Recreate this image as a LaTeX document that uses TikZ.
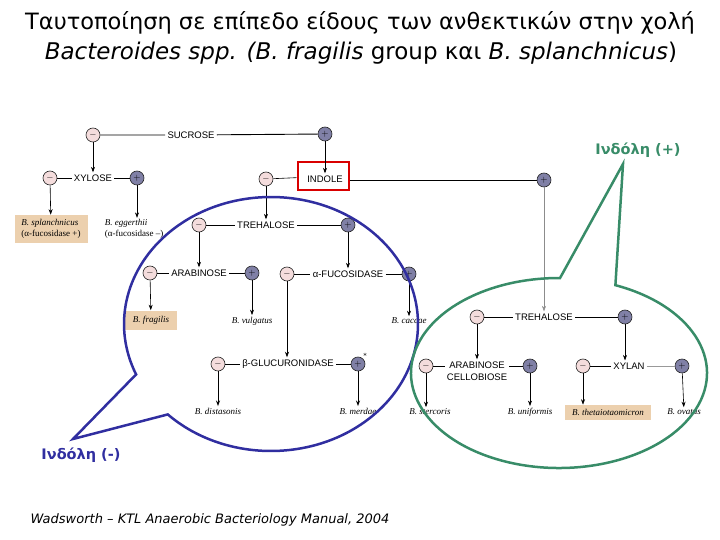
\documentclass[tikz,border=0pt]{standalone}
\usepackage{fontspec}
\setmainfont{DejaVu Sans}
\newfontfamily\chartfont{Liberation Sans}
\newfontfamily\specfont{Liberation Serif}
\usetikzlibrary{arrows.meta}
\definecolor{negfill}{RGB}{244,220,220}
\definecolor{posfill}{RGB}{128,128,166}
\definecolor{tanbox}{RGB}{236,208,174}
\definecolor{calloutblue}{RGB}{48,46,160}
\definecolor{calloutgreen}{RGB}{56,140,104}

\begin{document}
\begin{tikzpicture}[x=1pt, y=-1pt, >={Stealth[length=5.5pt,width=4pt]}, line width=0.6pt,
  minusdot/.style={circle, draw=black!85, fill=negfill, minimum size=14pt, inner sep=0pt, font=\small},
  plusdot/.style={circle, draw=black!85, fill=posfill, minimum size=14pt, inner sep=0pt, font=\small},
  testlbl/.style={font=\chartfont\fontsize{9.5}{11}\selectfont, inner sep=2pt},
  species/.style={font=\specfont\itshape\fontsize{9}{10.5}\selectfont, inner sep=1.5pt},
  tanbg/.style={fill=tanbox},
  callout/.style={line width=2.5pt, line join=miter}]
  \useasboundingbox (0,0) rectangle (720,540);

  % Title
  \node[font=\fontsize{22.5}{26}\selectfont] (title1) at (360,23) {Ταυτοποίηση σε επίπεδο είδους των ανθεκτικών στην χολή};
  \node[font=\fontsize{23}{26}\selectfont] (title2) at (361,53) {\textit{Bacteroides spp. (B. fragilis} group και \textit{B. splanchnicus})};

  % Sucrose
  \node[minusdot] (sucM) at (93,135) {$-$};
  \node[testlbl] (suc) at (191,135) {SUCROSE};
  \node[plusdot] (sucP) at (325,134) {$+$};
  \draw[line width=0.9pt] (sucM) -- (suc) -- (sucP);

  % Xylose
  \node[minusdot] (xylM) at (50,178) {$-$};
  \node[testlbl] (xyl) at (93,178) {XYLOSE};
  \node[plusdot] (xylP) at (137,178) {$+$};
  \draw (xylM) -- (xyl) -- (xylP);
  \draw[->] (sucM) -- (sucM |- xyl.north);
  \node[species, tanbg, align=left, minimum width=73pt, minimum height=28pt] (bspl) at (51,229) {B. splanchnicus\\{\upshape(α-fucosidase +)}};
  \node[species, align=left, anchor=west] (begg) at (103,229) {B. eggerthii\\{\upshape(α-fucosidase –)}};
  \draw[->] (xylM) -- (bspl);
  \draw[->] (xylP) -- (xylP |- begg.north);

  % Indole
  \node[draw=red!85!black, line width=2pt, minimum width=51pt, minimum height=28pt] (indBox) at (323,176.5) {};
  \node[testlbl] (ind) at (325,179) {INDOLE};
  \node[minusdot] (indM) at (266,179) {$-$};
  \node[plusdot] (indP) at (544,180) {$+$};
  \draw (indM) -- (indBox);
  \draw[line width=0.9pt] (indBox.east |- indP) -- (indP);
  \draw[->] (sucP) -- (ind.north);

  % Indole (-)
  \node[minusdot] (treM) at (199,225) {$-$};
  \node[testlbl] (tre) at (266,225) {TREHALOSE};
  \node[plusdot] (treP) at (348,225) {$+$};
  \draw (treM) -- (tre) -- (treP);
  \draw[->] (indM) -- (tre.north);

  \node[minusdot] (araM) at (150,273) {$-$};
  \node[testlbl] (ara) at (199,273) {ARABINOSE};
  \node[plusdot] (araP) at (252,273) {$+$};
  \draw (araM) -- (ara) -- (araP);
  \draw[->] (treM) -- (ara.north);

  \node[minusdot] (fucM) at (287,274) {$-$};
  \node[testlbl] (fuc) at (348,274) {α-FUCOSIDASE};
  \node[plusdot] (fucP) at (409,274) {$+$};
  \draw (fucM) -- (fuc) -- (fucP);
  \draw[->] (treP) -- (fuc.north);

  \node[species, tanbg, minimum width=52pt, minimum height=19pt] (bfra) at (151,320) {B. fragilis};
  \node[species] (bvul) at (252,321) {B. vulgatus};
  \node[species] (bcac) at (409,321) {B. caccae};
  \draw[->] (araM) -- (bfra);
  \draw[->] (araP) -- (bvul);
  \draw[->] (fucP) -- (bcac);

  \node[minusdot] (gluM) at (218,364) {$-$};
  \node[testlbl] (glu) at (288,364) {β-GLUCURONIDASE};
  \node[plusdot, label={[font=\scriptsize, inner sep=0pt]45:*}] (gluP) at (358,364) {$+$};
  \draw (gluM) -- (glu) -- (gluP);
  \draw[->] (fucM) -- (fucM |- glu.north);

  \node[species] (bdis) at (218,411) {B. distasonis};
  \node[species] (bmer) at (358,411) {B. merdae};
  \draw[->] (gluM) -- (bdis);
  \draw[->] (gluP) -- (bmer);

  % Indole (+)
  \node[minusdot] (tr2M) at (477,317) {$-$};
  \node[testlbl] (tr2) at (544,317) {TREHALOSE};
  \node[plusdot] (tr2P) at (625,317) {$+$};
  \draw (tr2M) -- (tr2) -- (tr2P);
  \draw[->, black!45, line width=0.4pt] (indP) -- (tr2.north);

  \node[minusdot] (acM) at (426,366) {$-$};
  \node[testlbl, align=center, font=\chartfont\fontsize{9.5}{12}\selectfont] (ac) at (477,371) {ARABINOSE\\CELLOBIOSE};
  \node[plusdot] (acP) at (530,366) {$+$};
  \draw (acM) -- (ac.west |- acM);
  \draw (ac.east |- acP) -- (acP);
  \draw[->] (tr2M) -- (tr2M |- ac.north);

  \node[minusdot] (xlM) at (583,366) {$-$};
  \node[testlbl] (xl) at (629,366) {XYLAN};
  \node[plusdot] (xlP) at (682,366) {$+$};
  \draw (xlM) -- (xl);
  \draw[black!40] (xl) -- (xlP);
  \draw[->] (tr2P) -- (tr2P |- xl.north);

  \node[species] (bste) at (430,412) {B. stercoris};
  \node[species] (buni) at (530,412) {B. uniformis};
  \node[species, tanbg, minimum width=86pt, minimum height=15pt] (bthe) at (608,412.5) {B. thetaiotaomicron};
  \node[species] (bova) at (684,412) {B. ovatus};
  \draw[->] (acM) -- (acM |- bste.north);
  \draw[->] (acP) -- (buni);
  \draw[->] (xlM) -- (xlM |- bthe.north);
  \draw[->] (xlP) -- (bova);

  % Callouts
  \draw[callout, calloutblue] ([shift={(271,324)}]156.6:147 and 127) -- (73,439)
    -- ([shift={(271,324)}]134.6:147 and 127)
    arc[start angle=134.6, end angle=-203.4, x radius=147, y radius=127] -- cycle;
  \node[calloutblue, font=\bfseries\fontsize{14.5}{16}\selectfont] (negLbl) at (81,455) {Ινδόλη (-)};

  \draw[callout, calloutgreen] ([shift={(559,373)}]-89.6:148 and 95) -- (623,164)
    -- ([shift={(559,373)}]-67.6:148 and 95)
    arc[start angle=-67.6, end angle=270.4, x radius=148, y radius=95] -- cycle;
  \node[calloutgreen, font=\bfseries\fontsize{14.5}{16}\selectfont] (posLbl) at (638,150) {Ινδόλη (+)};

  % Source
  \node[font=\itshape\fontsize{13}{15}\selectfont] (source) at (210,520) {Wadsworth – KTL Anaerobic Bacteriology Manual, 2004};
\end{tikzpicture}
\end{document}
